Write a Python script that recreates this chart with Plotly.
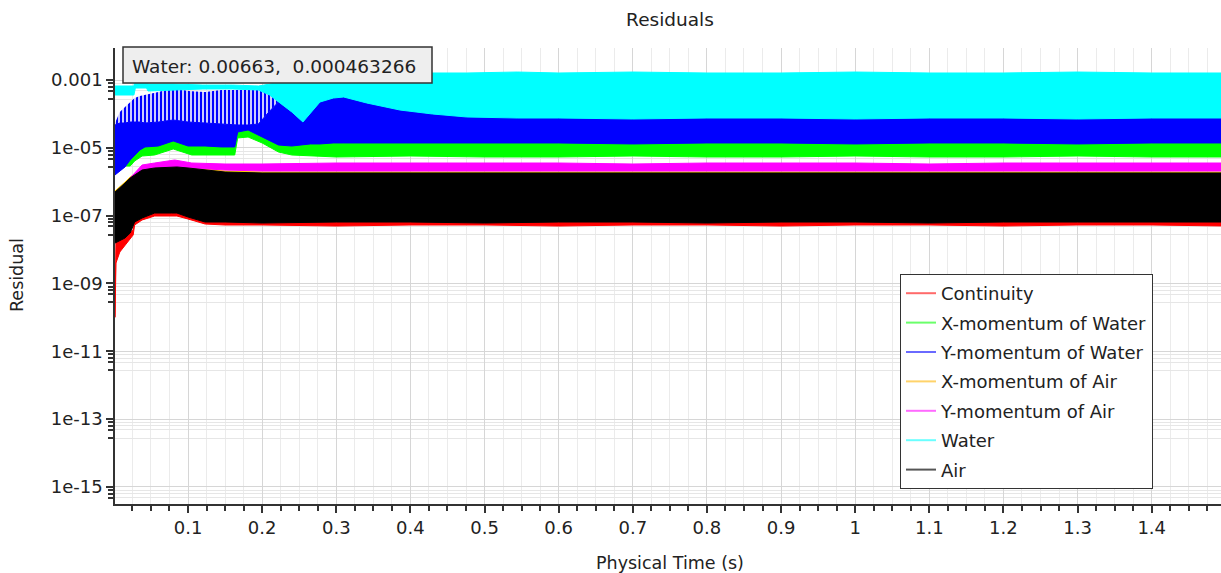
import plotly.graph_objects as go

# ---- residual envelopes (upper / lower bound of each oscillating residual) ----
continuity_t = [0.0015, 0.0028, 0.008, 0.018, 0.026, 0.028, 0.038, 0.055, 0.085, 0.1, 0.123, 0.15, 0.2,
                0.3, 0.4, 0.5, 0.6, 0.7, 0.8, 0.9, 1.0, 1.1, 1.2, 1.3, 1.4, 1.5]
continuity_hi = [1e-10, 1.91e-8, 2.18e-8, 2.68e-8, 3.76e-8, 2.88e-7, 2.88e-7, 2.88e-7, 2.88e-7, 2.88e-7, 2.88e-7,
                 2.88e-7, 2.88e-7, 2.88e-7, 2.88e-7, 2.88e-7, 2.88e-7, 2.88e-7, 2.88e-7, 2.88e-7, 2.88e-7,
                 2.88e-7, 2.88e-7, 2.88e-7, 2.88e-7, 2.88e-7]
continuity_lo = [1e-10, 4.0e-9, 8.44e-9, 1.66e-8, 2.68e-8, 5.28e-8, 7.42e-8, 9.73e-8, 9.73e-8, 7.94e-8, 5.65e-8,
                 5.28e-8, 5.28e-8, 4.93e-8, 5.28e-8, 5.28e-8, 4.93e-8, 5.28e-8, 5.28e-8, 4.93e-8, 5.28e-8,
                 5.28e-8, 4.93e-8, 5.28e-8, 5.28e-8, 4.93e-8]

xmom_water_t = [0.0015, 0.015, 0.022, 0.028, 0.038, 0.055, 0.08, 0.105, 0.163, 0.167, 0.181, 0.2, 0.222,
                0.24, 0.3, 0.4, 0.5, 0.6, 0.7, 0.8, 0.9, 1.0, 1.1, 1.2, 1.3, 1.4, 1.5]
xmom_water_hi = [1.93e-6, 3.33e-6, 5.36e-6, 7.52e-6, 1.21e-5, 1.30e-5, 1.82e-5, 1.30e-5, 1.30e-5, 3.35e-5,
                 3.84e-5, 2.39e-5, 1.39e-5, 1.30e-5, 1.59e-5, 1.59e-5, 1.59e-5, 1.59e-5, 1.59e-5, 1.59e-5,
                 1.59e-5, 1.59e-5, 1.59e-5, 1.59e-5, 1.59e-5, 1.59e-5, 1.59e-5]
xmom_water_lo = [1.69e-6, 2.90e-6, 2.90e-6, 4.08e-6, 5.73e-6, 6.14e-6, 9.23e-6, 6.14e-6, 6.14e-6, 1.95e-5,
                 2.08e-5, 1.39e-5, 7.52e-6, 6.14e-6, 5.36e-6, 5.73e-6, 5.36e-6, 5.36e-6, 5.73e-6, 5.36e-6,
                 5.36e-6, 5.73e-6, 5.36e-6, 5.36e-6, 5.73e-6, 5.36e-6, 5.36e-6]

ymom_water_t = [0.0015, 0.008, 0.015, 0.022, 0.028, 0.035, 0.042, 0.06, 0.08, 0.1, 0.123, 0.145, 0.163,
                0.167, 0.181, 0.195, 0.21, 0.222, 0.24, 0.255, 0.265, 0.278, 0.296, 0.31, 0.341, 0.386,
                0.43, 0.476, 0.544, 0.6, 0.7, 0.8, 0.9, 1.0, 1.1, 1.2, 1.3, 1.4, 1.5]
# peaks of the spikes
ymom_water_hi = [5.39e-5, 1.14e-4, 1.60e-4, 2.24e-4, 2.94e-4, 3.37e-4, 3.61e-4, 4.43e-4, 5.81e-4, 4.74e-4,
                 4.43e-4, 5.07e-4, 5.07e-4, 5.07e-4, 5.07e-4, 5.07e-4, 3.86e-4, 2.24e-4, 1.14e-4, 5.77e-5,
                 1.06e-4, 2.24e-4, 2.94e-4, 3.15e-4, 2.10e-4, 1.30e-4, 9.93e-5, 8.67e-5, 8.11e-5, 8.11e-5,
                 8.11e-5, 8.11e-5, 8.11e-5, 8.11e-5, 8.11e-5, 8.11e-5, 8.11e-5, 8.11e-5, 8.11e-5]
# top of the dense part of the band
ymom_water_base = [4.71e-5, 5.39e-5, 5.39e-5, 5.77e-5, 5.77e-5, 5.77e-5, 5.39e-5, 5.77e-5, 6.61e-5, 5.77e-5,
                   5.39e-5, 5.04e-5, 4.71e-5, 4.71e-5, 4.71e-5, 5.04e-5, 1.20e-4, 2.24e-4, 1.14e-4, 5.77e-5,
                   1.06e-4, 2.24e-4, 2.94e-4, 3.15e-4, 2.10e-4, 1.30e-4, 9.93e-5, 8.67e-5, 8.11e-5, 8.11e-5,
                   8.11e-5, 8.11e-5, 8.11e-5, 8.11e-5, 8.11e-5, 8.11e-5, 8.11e-5, 8.11e-5, 8.11e-5]
ymom_water_lo = [1.58e-6, 2.07e-6, 2.72e-6, 4.37e-6, 6.14e-6, 8.61e-6, 1.06e-5, 1.13e-5, 1.59e-5, 1.13e-5,
                 1.13e-5, 1.06e-5, 1.06e-5, 2.92e-5, 3.35e-5, 2.39e-5, 1.59e-5, 1.21e-5, 1.13e-5, 1.21e-5,
                 1.30e-5, 1.30e-5, 1.39e-5, 1.39e-5, 1.39e-5, 1.39e-5, 1.39e-5, 1.39e-5, 1.39e-5, 1.39e-5,
                 1.30e-5, 1.39e-5, 1.39e-5, 1.30e-5, 1.39e-5, 1.39e-5, 1.30e-5, 1.39e-5, 1.39e-5]

air_t = [0.0015, 0.008, 0.015, 0.022, 0.028, 0.038, 0.055, 0.078, 0.085, 0.1, 0.123, 0.15, 0.2,
         0.3, 0.4, 0.5, 0.6, 0.7, 0.8, 0.9, 1.0, 1.1, 1.2, 1.3, 1.4, 1.5]
xmom_air_hi = [5.32e-7, 6.98e-7, 9.8e-7, 1.38e-6, 1.69e-6, 2.37e-6, 2.72e-6, 2.90e-6, 2.90e-6, 2.72e-6,
               2.37e-6, 2.07e-6, 1.93e-6, 1.93e-6, 1.93e-6, 1.93e-6, 1.93e-6, 1.93e-6, 1.93e-6, 1.93e-6,
               1.93e-6, 1.93e-6, 1.93e-6, 1.93e-6, 1.93e-6, 1.93e-6]
xmom_air_lo = [2.68e-8, 3.07e-8, 3.76e-8, 5.28e-8, 1.04e-7, 1.46e-7, 2.05e-7, 2.05e-7, 2.05e-7, 1.57e-7,
               1.11e-7, 1.11e-7, 1.11e-7, 1.11e-7, 1.11e-7, 1.11e-7, 1.11e-7, 1.11e-7, 1.11e-7, 1.11e-7,
               1.11e-7, 1.11e-7, 1.11e-7, 1.11e-7, 1.11e-7, 1.11e-7]

ymom_air_t = [0.0015, 0.015, 0.022, 0.028, 0.038, 0.055, 0.082, 0.105, 0.15, 0.2, 0.3, 0.4, 0.5, 0.6,
              0.7, 0.8, 0.9, 1.0, 1.1, 1.2, 1.3, 1.4, 1.5]
ymom_air_hi = [4.65e-7, 8.55e-7, 1.29e-6, 1.81e-6, 3.11e-6, 3.56e-6, 4.37e-6, 3.56e-6, 3.33e-6, 3.33e-6,
               3.56e-6, 3.56e-6, 3.56e-6, 3.56e-6, 3.33e-6, 3.56e-6, 3.56e-6, 3.56e-6, 3.33e-6, 3.56e-6,
               3.56e-6, 3.56e-6, 3.56e-6]
ymom_air_lo = [3.79e-7, 6.98e-7, 9.8e-7, 1.47e-6, 2.21e-6, 2.54e-6, 2.72e-6, 2.54e-6, 2.21e-6, 2.07e-6,
               2.07e-6, 2.07e-6, 2.07e-6, 2.07e-6, 2.07e-6, 2.07e-6, 2.07e-6, 2.07e-6, 2.07e-6, 2.07e-6,
               2.07e-6, 2.07e-6, 2.07e-6]

water_t = [0.0015, 0.027, 0.029, 0.044, 0.046, 0.08, 0.12, 0.16, 0.195, 0.21, 0.222, 0.24, 0.255, 0.265,
           0.278, 0.296, 0.31, 0.341, 0.386, 0.43, 0.476, 0.544, 0.6, 0.7, 0.8, 0.9, 1.0, 1.1, 1.2, 1.3,
           1.4, 1.5]
water_hi = [6.65e-4, 6.65e-4, 1.23e-3, 1.23e-3, 7.62e-4, 7.62e-4, 7.12e-4, 7.12e-4, 6.65e-4, 7.62e-4,
            8.73e-4, 1.0e-3, 1.15e-3, 1.23e-3, 1.31e-3, 1.40e-3, 1.50e-3, 1.50e-3, 1.61e-3, 1.61e-3,
            1.61e-3, 1.72e-3, 1.61e-3, 1.72e-3, 1.61e-3, 1.61e-3, 1.72e-3, 1.61e-3, 1.61e-3, 1.72e-3,
            1.61e-3, 1.61e-3]
water_lo = [3.61e-4, 3.61e-4, 5.81e-4, 5.81e-4, 4.74e-4, 5.07e-4, 5.43e-4, 5.43e-4, 5.07e-4, 3.61e-4,
            2.24e-4, 1.14e-4, 5.77e-5, 1.06e-4, 2.24e-4, 2.94e-4, 3.15e-4, 2.10e-4, 1.30e-4, 9.93e-5,
            8.11e-5, 7.57e-5, 7.57e-5, 7.08e-5, 7.57e-5, 7.57e-5, 7.08e-5, 7.57e-5, 7.57e-5, 7.08e-5,
            7.57e-5, 7.57e-5]

air_hi = [4.97e-7, 6.52e-7, 9.16e-7, 1.29e-6, 1.58e-6, 2.21e-6, 2.54e-6, 2.72e-6, 2.72e-6, 2.54e-6,
          2.21e-6, 1.93e-6, 1.81e-6, 1.81e-6, 1.81e-6, 1.81e-6, 1.81e-6, 1.81e-6, 1.81e-6, 1.81e-6,
          1.81e-6, 1.81e-6, 1.81e-6, 1.81e-6, 1.81e-6, 1.81e-6]
air_lo = [1.55e-8, 1.78e-8, 2.18e-8, 3.07e-8, 6.47e-8, 8.5e-8, 1.19e-7, 1.19e-7, 1.19e-7, 9.1e-8,
          6.47e-8, 6.47e-8, 6.05e-8, 6.47e-8, 6.47e-8, 6.05e-8, 6.47e-8, 6.47e-8, 6.05e-8,
          6.47e-8, 6.47e-8, 6.05e-8, 6.47e-8, 6.47e-8, 6.47e-8, 6.47e-8]

series_names = ["Continuity", "X-momentum of Water", "Y-momentum of Water", "X-momentum of Air",
                "Y-momentum of Air", "Water", "Air"]
series_colors = ["#ff0000", "#00ff00", "#0000ff", "#ffc800", "#ff00ff", "#00ffff", "#000000"]
legend_colors = ["#ff6a6a", "#6aff6a", "#6a6aff", "#ffd36a", "#ff6aff", "#6affff", "#555555"]

x_tick_vals = [0.1, 0.2, 0.3, 0.4, 0.5, 0.6, 0.7, 0.8, 0.9, 1.0, 1.1, 1.2, 1.3, 1.4]
x_tick_text = ["0.1", "0.2", "0.3", "0.4", "0.5", "0.6", "0.7", "0.8", "0.9", "1", "1.1", "1.2", "1.3", "1.4"]
y_tick_vals = [1e-3, 1e-5, 1e-7, 1e-9, 1e-11, 1e-13, 1e-15]
y_tick_text = ["0.001", "1e-05", "1e-07", "1e-09", "1e-11", "1e-13", "1e-15"]
y_minor_factors = [0.8, 0.63, 0.48, 0.275]

probe_text = "Water: 0.00663,\u00a0 0.000463266"

FONT = "DejaVu Sans"
TXT = "#222222"
fig = go.Figure()


def band(t, hi, lo, color, name):
    """Solid band between the upper and lower bound of a residual."""
    fig.add_trace(go.Scatter(x=t, y=hi, mode="lines", line=dict(color=color, width=1),
                             showlegend=False, hoverinfo="skip"))
    fig.add_trace(go.Scatter(x=t, y=lo, mode="lines", line=dict(color=color, width=1),
                             fill="tonexty", fillcolor=color, showlegend=False, name=name))


band(continuity_t, continuity_hi, continuity_lo, series_colors[0], series_names[0])
band(xmom_water_t, xmom_water_hi, xmom_water_lo, series_colors[1], series_names[1])

# Y-momentum of Water: sparse spikes above a dense band
fig.add_trace(go.Scatter(x=ymom_water_t, y=ymom_water_hi, mode="lines", line=dict(width=0),
                         showlegend=False, hoverinfo="skip"))
fig.add_trace(go.Scatter(x=ymom_water_t, y=ymom_water_base, mode="lines", line=dict(color="#0000ff", width=1),
                         fill="tonexty", fillcolor="#0000ff",
                         fillpattern=dict(shape="|", fgcolor="#0000ff", bgcolor="white", fgopacity=1,
                                          fillmode="replace", size=4, solidity=0.6),
                         showlegend=False, hoverinfo="skip"))
fig.add_trace(go.Scatter(x=ymom_water_t, y=ymom_water_lo, mode="lines", line=dict(color="#0000ff", width=1),
                         fill="tonexty", fillcolor="#0000ff", showlegend=False, name=series_names[2]))

band(air_t, xmom_air_hi, xmom_air_lo, series_colors[3], series_names[3])
band(ymom_air_t, ymom_air_hi, ymom_air_lo, series_colors[4], series_names[4])
band(water_t, water_hi, water_lo, series_colors[5], series_names[5])
band(air_t, air_hi, air_lo, series_colors[6], series_names[6])

# legend entries
for name, color in zip(series_names, legend_colors):
    fig.add_trace(go.Scatter(x=[None], y=[None], mode="lines", name=name,
                             line=dict(color=color, width=2), legendgroup=name))

minor_y = [v * f for v in y_tick_vals for f in y_minor_factors]

L, R, T, B = 115, 0, 48, 69
W, H = 1221, 573
pw, ph = W - L - R, H - T - B


def px_x(p):
    return (p - L) / pw


def px_y(p):
    return (H - B - p) / ph


fig.update_layout(
    width=W, height=H,
    margin=dict(l=L, r=R, t=T, b=B),
    paper_bgcolor="white", plot_bgcolor="white",
    font=dict(family=FONT, size=18, color=TXT),
    showlegend=True,
    legend=dict(x=px_x(900), y=px_y(274), xanchor="left", yanchor="top",
                bgcolor="white", bordercolor="#333333", borderwidth=1,
                font=dict(family=FONT, size=18, color=TXT),
                tracegroupgap=3, traceorder="grouped"),
    title=dict(text="Residuals", x=px_x(670), xref="paper", xanchor="center",
               y=1 - 20 / H, yanchor="middle", font=dict(family=FONT, size=18.5, color=TXT)),
)

fig.update_xaxes(
    range=[0.0015, 1.4935], showline=True, linecolor="#333333", linewidth=1.5,
    tickmode="array", tickvals=x_tick_vals, ticktext=x_tick_text,
    ticks="outside", ticklen=7, tickcolor="#333333", tickwidth=1.5,
    showgrid=True, gridcolor="#d6d6d6", gridwidth=1, zeroline=False,
    tickfont=dict(family=FONT, size=18, color=TXT),
    minor=dict(dtick=0.025, tick0=0, ticks="outside", ticklen=5, tickcolor="#333333",
               showgrid=True, gridcolor="#ebebeb", gridwidth=1),
)
fig.update_yaxes(
    type="log", range=[-15.507, -2.056], showline=True, linecolor="#333333", linewidth=1.5,
    tickmode="array", tickvals=y_tick_vals, ticktext=y_tick_text,
    ticks="outside", ticklen=7, tickcolor="#333333", tickwidth=1.5,
    showgrid=True, gridcolor="#d6d6d6", gridwidth=1, zeroline=False,
    tickfont=dict(family=FONT, size=18, color=TXT),
    minor=dict(tickmode="array", tickvals=minor_y, ticks="outside", ticklen=5, tickcolor="#333333",
               showgrid=True, gridcolor="#e6e6e6", gridwidth=1),
)

# probe read-out box
fig.add_shape(type="rect", xref="paper", yref="paper", x0=px_x(123), x1=px_x(432),
              y0=px_y(83), y1=px_y(47), fillcolor="#eeeeee", line=dict(color="#333333", width=1.5),
              layer="above")
fig.add_annotation(text=probe_text, xref="paper", yref="paper", x=px_x(130), y=px_y(66),
                   xanchor="left", yanchor="middle", showarrow=False,
                   font=dict(family=FONT, size=18.5, color=TXT))

# axis titles
fig.add_annotation(text="Physical Time (s)", xref="paper", yref="paper", x=px_x(670), y=px_y(563),
                   xanchor="center", yanchor="middle", showarrow=False,
                   font=dict(family=FONT, size=17.5, color=TXT))
fig.add_annotation(text="Residual", xref="paper", yref="paper", x=px_x(17), y=px_y(275),
                   xanchor="center", yanchor="middle", showarrow=False, textangle=-90,
                   font=dict(family=FONT, size=17.5, color=TXT))

fig.write_html("out.html")
